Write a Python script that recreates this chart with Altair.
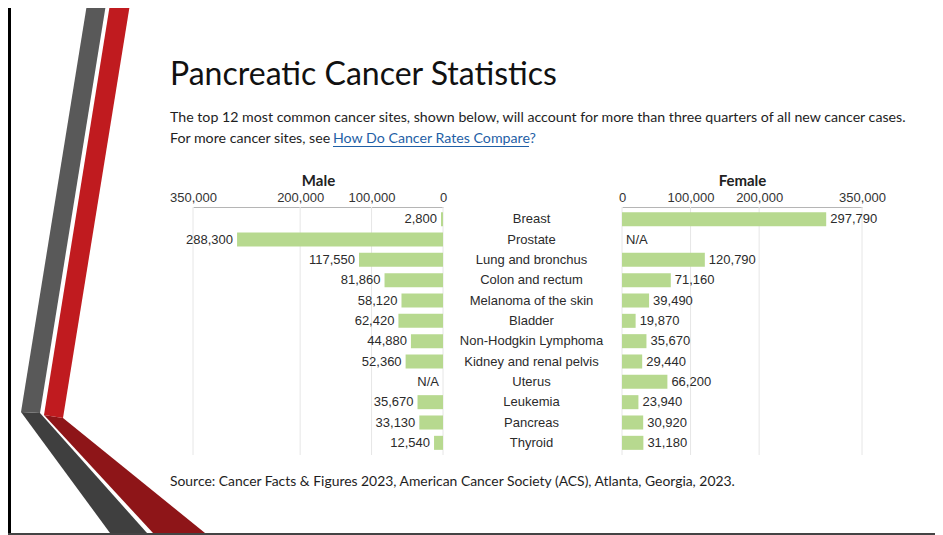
import altair as alt
import pandas as pd

# ---------------- data ----------------
sites = ["Breast", "Prostate", "Lung and bronchus", "Colon and rectum",
         "Melanoma of the skin", "Bladder", "Non-Hodgkin Lymphoma",
         "Kidney and renal pelvis", "Uterus", "Leukemia", "Pancreas", "Thyroid"]
male = [2800, 288300, 117550, 81860, 58120, 62420, 44880, 52360, None, 35670, 33130, 12540]
female = [297790, None, 120790, 71160, 39490, 19870, 35670, 29440, 66200, 23940, 30920, 31180]
male_ticks = [0, 100000, 200000, 350000]
female_ticks = [0, 100000, 200000, 350000]

TITLE = "Pancreatic Cancer Statistics"
SUB1 = "The top 12 most common cancer sites, shown below, will account for more than three quarters of all new cancer cases."
SUB2 = "For more cancer sites, see"
LINK = "How Do Cancer Rates Compare?"
SOURCE = "Source: Cancer Facts & Figures 2023, American Cancer Society (ACS), Atlanta, Georgia, 2023."

df = pd.DataFrame({"site": sites, "male": male, "female": female})
mt = pd.DataFrame({"t": male_ticks})
ft = pd.DataFrame({"t": female_ticks})
one = pd.DataFrame({"k": [0]})

GREEN = "#b7d98f"
TXT = "#2b2b2b"
BODY_FONT = "Lato"
CHART_FONT = "Liberation Sans"

male_scale = alt.Scale(domain=[0, 350000], range=[435, 185], nice=False, zero=True)
female_scale = alt.Scale(domain=[0, 350000], range=[614, 854], nice=False, zero=True)
y_scale = alt.Scale(range=[201, 445], paddingInner=0.31, paddingOuter=0.155, round=False)
Y = alt.Y("site:N", sort=sites, scale=y_scale, axis=None)


def top_axis(title, values):
    return alt.Axis(orient="top", values=values, format=",.0f", title=title, offset=-199,
                    grid=False, ticks=False, labelFlush=False, labelOverlap=False,
                    labelFont=CHART_FONT, labelFontSize=13, labelColor="#333",
                    labelPadding=3, domainColor="#b5b5b5", domainWidth=1,
                    titleFont=BODY_FONT, titleFontWeight="bold", titleFontSize=15,
                    titleColor="#222", titlePadding=3)


grid_m = alt.Chart(mt).mark_rule(color="#e6e6e6", strokeWidth=1).encode(
    x=alt.X("t:Q", scale=male_scale, axis=None), y=alt.value(199), y2=alt.value(447))
grid_f = alt.Chart(ft).mark_rule(color="#e6e6e6", strokeWidth=1).encode(
    x=alt.X("t:Q", scale=female_scale, axis=None), y=alt.value(199), y2=alt.value(447))

bars_m = alt.Chart(df).mark_bar(color=GREEN).encode(
    x=alt.X("male:Q", scale=male_scale, axis=top_axis("Male", male_ticks)), y=Y)
bars_f = alt.Chart(df).mark_bar(color=GREEN).encode(
    x=alt.X("female:Q", scale=female_scale, axis=top_axis("Female", female_ticks)), y=Y)

lab_m = alt.Chart(df).transform_calculate(
    mx="isValid(datum.male) ? datum.male : 0",
    ml="isValid(datum.male) ? format(datum.male, ',') : 'N/A'",
).mark_text(align="right", baseline="middle", dx=-4, font=CHART_FONT, fontSize=13, color=TXT).encode(
    x=alt.X("mx:Q", scale=male_scale, axis=None), y=Y, text="ml:N")
lab_f = alt.Chart(df).transform_calculate(
    fx="isValid(datum.female) ? datum.female : 0",
    fl="isValid(datum.female) ? format(datum.female, ',') : 'N/A'",
).mark_text(align="left", baseline="middle", dx=4, font=CHART_FONT, fontSize=13, color=TXT).encode(
    x=alt.X("fx:Q", scale=female_scale, axis=None), y=Y, text="fl:N")

cats = alt.Chart(df).mark_text(align="center", baseline="middle", font=CHART_FONT,
                               fontSize=13, color=TXT).encode(
    x=alt.value(523.5), y=Y, text="site:N")


# ---------------- slide decoration ----------------
def shape(path, color):
    return alt.Chart(one).mark_point(shape=path, filled=True, size=4, color=color,
                                     opacity=1, strokeWidth=0).encode(
        x=alt.value(0), y=alt.value(0))


deco = [
    shape("M13,404L32,405L139,525L102,525Z", "#3f3f3f"),
    shape("M36,407L55,410L197,525L145,525Z", "#8e1518"),
    shape("M79,-4L98,-4L32,405L13,404Z", "#595959"),
    shape("M102,-4L122,-4L55,410L36,407Z", "#c01b1f"),
    alt.Chart(one).mark_rule(color="#000", strokeWidth=3).encode(
        x=alt.value(1.5), y=alt.value(0), y2=alt.value(527)),
    alt.Chart(one).mark_rule(color="#444", strokeWidth=2).encode(
        x=alt.value(0), x2=alt.value(927), y=alt.value(526)),
]


def txt(s, x, y, size, color="#1e1e1e", weight="normal"):
    return alt.Chart(one).mark_text(text=s, align="left", baseline="alphabetic",
                                    font=BODY_FONT, fontSize=size, color=color,
                                    fontWeight=weight).encode(
        x=alt.value(x), y=alt.value(y))


texts = [
    txt(TITLE, 162, 77, 32, "#111"),
    txt(SUB1, 162, 114, 14.2),
    txt(SUB2, 162, 135, 14.2),
    txt(LINK, 325, 135, 14.2, "#1f5fa6"),
    alt.Chart(one).mark_rule(color="#1f5fa6", strokeWidth=1).encode(
        x=alt.value(325), x2=alt.value(521), y=alt.value(138.5)),
    txt(SOURCE, 162, 478, 13.9),
]

chart = alt.layer(
    *deco, grid_m, grid_f, bars_m, bars_f, lab_m, lab_f, cats, *texts
).resolve_scale(x="independent").properties(
    width=927, height=527, padding=0, autosize=alt.AutoSizeParams(type="none")
).configure_view(stroke=None)

chart.save("out.html", embed_options={"renderer": "svg", "actions": False})
